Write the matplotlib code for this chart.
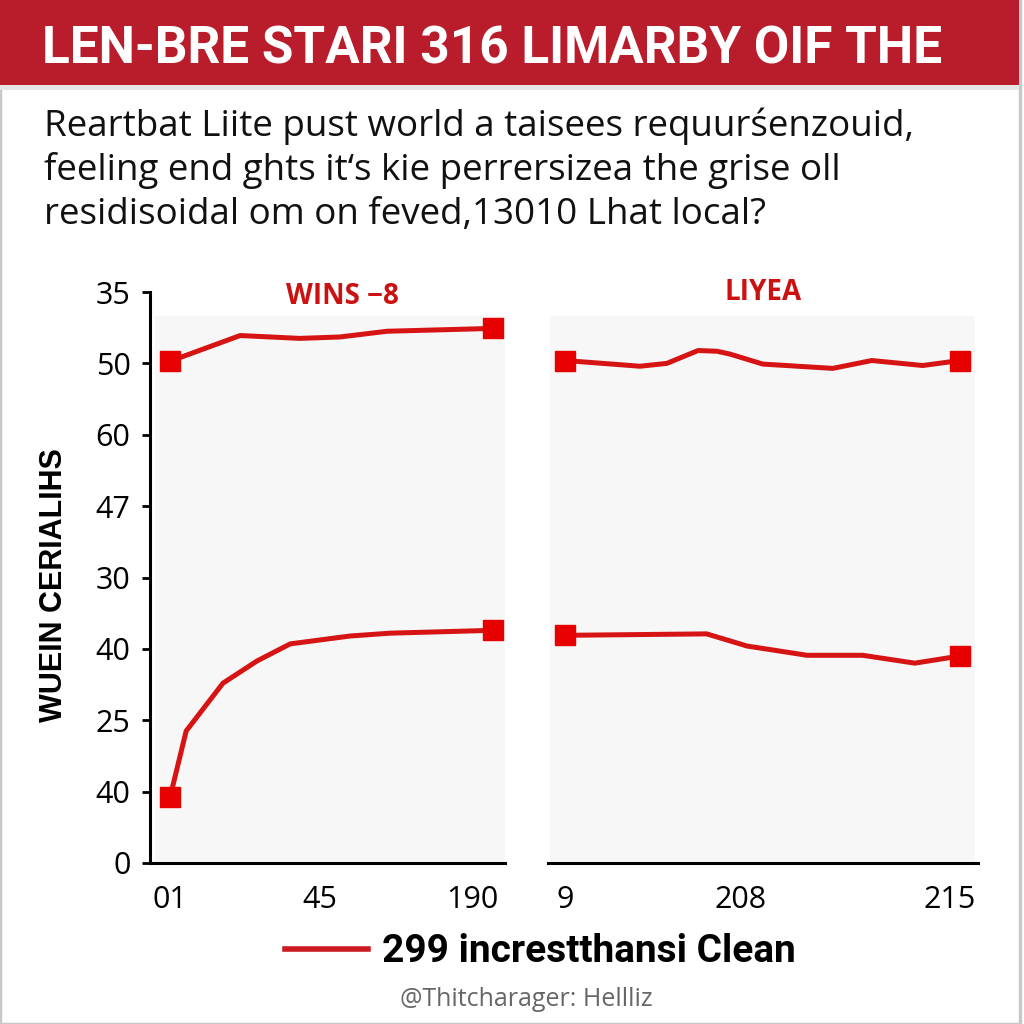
import numpy as np
import matplotlib.pyplot as plt
from matplotlib.lines import Line2D
from matplotlib.patches import Rectangle

# values
title_text = "LEN-BRE STARI 316 LIMARBY OIF THE"
subtitle_lines = ["Reartbat Liite pust world a taisees requurśenzouid,",
                  "feeling end ghts it\u2018s kie perrersizea the grise oll",
                  "residisoidal om on feved,13010 Lhat local?"]
ytick_labels = ["0", "40", "25", "40", "30", "47", "60", "50", "35"]
left_xticks = [0, 4.65, 9.35]
left_xlabels = ["01", "45", "190"]
right_xticks = [0, 4.45, 9.75]
right_xlabels = ["9", "208", "215"]

left_top_x = [0, 2.17, 4.02, 5.26, 6.72, 10]
left_top_y = [7.03, 7.39, 7.35, 7.37, 7.45, 7.49]
left_bot_x = [0, 0.5, 1.64, 2.69, 3.72, 5.57, 6.81, 10]
left_bot_y = [0.92, 1.85, 2.52, 2.83, 3.07, 3.18, 3.22, 3.26]
right_top_x = [0, 1.9, 2.58, 3.37, 3.85, 4.18, 5.01, 6.78, 7.77, 9.06, 10]
right_top_y = [7.04, 6.96, 7.00, 7.18, 7.17, 7.13, 6.99, 6.93, 7.04, 6.97, 7.04]
right_bot_x = [0, 3.59, 4.61, 6.13, 7.54, 8.86, 10]
right_bot_y = [3.19, 3.21, 3.04, 2.91, 2.91, 2.80, 2.90]

RED = '#d61414'
MRED = '#e60000'
SANS = ['Open Sans', 'DejaVu Sans']
ROBOTO = ['Roboto', 'DejaVu Sans']

fig = plt.figure(figsize=(10.24, 10.24), dpi=100)
fig.patch.set_facecolor('white')

# frame and banner
fig.patches.append(Rectangle((0.0, 0.0), 0.996, 1.0, transform=fig.transFigure,
                             fill=False, edgecolor='#c8c8c8', lw=2.5, zorder=0))
fig.patches.append(Rectangle((0.0, 0.912), 0.995, 0.005, transform=fig.transFigure,
                             color='#e6e6e6', lw=0, zorder=1))
fig.patches.append(Rectangle((0.0, 0.917), 0.995, 0.083, transform=fig.transFigure,
                             color='#b91d2b', lw=0, zorder=2))
fig.text(0.041, 1 - 49 / 1024, title_text, color='white', fontsize=37, fontweight='bold',
         family=ROBOTO, ha='left', va='center', zorder=3)

for i, line in enumerate(subtitle_lines):
    fig.text(0.043, 1 - (136 + 44 * i) / 1024, line, fontsize=26.5, family=SANS,
             color='#111111', ha='left', va='baseline')


def setup(ax, xlim, xticks, xlabels, show_y):
    ax.set_xlim(*xlim)
    ax.set_ylim(0, 8)
    ax.set_facecolor('white')
    for s in ['top', 'right']:
        ax.spines[s].set_visible(False)
    ax.spines['bottom'].set_linewidth(2.2)
    ax.spines['left'].set_linewidth(2.2)
    ax.set_xticks(xticks)
    ax.set_xticklabels(xlabels, fontsize=22, family=SANS)
    ax.tick_params(axis='x', length=0, pad=16)
    ax.set_yticks(range(9))
    if show_y:
        ax.set_yticklabels(ytick_labels, fontsize=22, family=SANS)
        ax.tick_params(axis='y', length=6, width=2, pad=8)
    else:
        ax.spines['left'].set_visible(False)
        ax.tick_params(axis='y', left=False, labelleft=False)


axl = fig.add_axes([150 / 1024, 1 - 863 / 1024, 355 / 1024, 571 / 1024])
axr = fig.add_axes([548 / 1024, 1 - 863 / 1024, 430 / 1024, 571 / 1024])
setup(axl, (-0.62, 10.37), left_xticks, left_xlabels, True)
setup(axr, (-0.43, 10.46), right_xticks, right_xlabels, False)

axl.add_patch(Rectangle((0.014, 0), 0.986, 0.958, transform=axl.transAxes,
                        color='#f7f7f7', lw=0, zorder=0))
axr.add_patch(Rectangle((0.005, 0), 0.988, 0.958, transform=axr.transAxes,
                        color='#f7f7f7', lw=0, zorder=0))

for ax, xs, ys in [(axl, left_top_x, left_top_y), (axl, left_bot_x, left_bot_y),
                   (axr, right_top_x, right_top_y), (axr, right_bot_x, right_bot_y)]:
    ax.plot(xs, ys, color=RED, lw=3.6, solid_joinstyle='round', zorder=3)
    ax.plot([xs[0], xs[-1]], [ys[0], ys[-1]], ls='none', marker='s', ms=14,
            color=MRED, zorder=4)

fig.text(342 / 1024, 1 - 296 / 1024, "WINS \u22128", color='#cc1111', fontsize=20,
         fontweight='bold', family=SANS, ha='center', va='center')
fig.text(763 / 1024, 1 - 293 / 1024, "LIYEA", color='#cc1111', fontsize=20,
         fontweight='bold', family=SANS, ha='center', va='center')

fig.text(54 / 1024, 1 - 585 / 1024, "WUEIN CERIALIHS", rotation=90, fontsize=22,
         fontweight='bold', family=['Liberation Sans', 'DejaVu Sans'],
         ha='center', va='center')

handle = Line2D([], [], color='#cc1a22', lw=4)
fig.legend([handle], ["299 increstthansi Clean"], loc='center',
           bbox_to_anchor=(540 / 1024, 1 - 952 / 1024), frameon=False,
           handlelength=2.15, handletextpad=0.35,
           prop={'family': ROBOTO, 'weight': 'bold', 'size': 28})

fig.text(526 / 1024, 1 - 1000 / 1024, "@Thitcharager: Hellliz", color='#666666',
         fontsize=18, family=SANS, ha='center', va='center')

fig.savefig('out.png', dpi=100, facecolor='white')
